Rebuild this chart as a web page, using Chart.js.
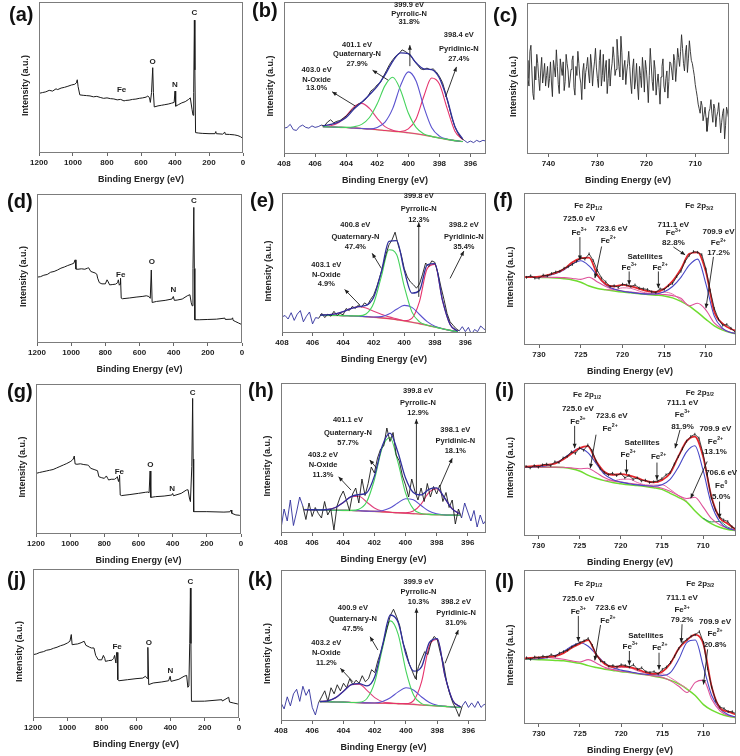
<!DOCTYPE html>
<html>
<head>
<meta charset="utf-8">
<script src="https://cdn.jsdelivr.net/npm/chart.js"></script>
<style>
html,body{margin:0;padding:0;background:#fff;}
body{width:740px;height:756px;position:relative;overflow:hidden;}
canvas{position:absolute;}
.letter{position:absolute;font-family:"Liberation Sans",Arial,sans-serif;font-weight:bold;font-size:20px;line-height:20px;color:#111;white-space:nowrap;}
</style>
</head>
<body>
<script>
const FONT = "'Liberation Sans', Arial, Helvetica, sans-serif";

// ---------------- Survey spectra (Binding energy eV, intensity a.u.) ----------------
const SURVEY_A = [[1200,39.5],[1180,40],[1160,40.5],[1140,41.5],[1120,41],[1100,42.5],[1090,42],[1070,43],[1050,43.5],[1030,44.2],[1010,45],[990,45.5],[980,46.5],[975,48.5],[970,44],[960,38.5],[940,38.2],[920,38],[900,37.8],[880,37.2],[860,37.5],[840,36.8],[820,36.2],[800,36.5],[780,36],[760,35.8],[740,35.2],[720,35.5],[700,34.5],[690,34.8],[670,35],[650,35.5],[630,35.7],[610,36.2],[590,36.5],[570,37],[560,37.8],[550,36.5],[545,33.5],[538,40],[531,56.5],[527,40],[522,30.5],[500,31.2],[480,31.6],[460,32],[440,32.4],[420,33],[405,33.5],[400,41],[396,31],[380,32],[360,33.2],[340,34],[320,35.5],[310,36.5],[300,29],[294,25],[290,40],[286,88],[283,55],[279,13.5],[260,13.2],[240,13],[200,12.8],[165,12.8],[160,14.2],[157,12.8],[120,12.5],[107,13.8],[104,12.4],[80,12.3],[50,12],[30,11.5],[15,10.8],[5,10],[0,9.5]];
const SURVEY_D = [[1200,44.2],[1180,44.5],[1160,45.5],[1140,46],[1120,47.5],[1100,48],[1080,49],[1060,50.2],[1040,51],[1020,52],[1000,52.8],[985,53.5],[977,55.8],[972,49.6],[960,49.5],[940,49.8],[920,49.5],[905,50.2],[898,50.5],[885,48],[860,47],[850,46.2],[845,43.5],[835,40.5],[820,39.7],[800,39.7],[790,42.4],[783,41],[775,39],[760,39.2],[740,39.5],[728,40.5],[724,42.4],[718,38.8],[714,39.5],[711,43.5],[707,30.1],[700,29.7],[660,30.2],[620,30.8],[580,31.3],[560,31.7],[545,31.2],[537,30],[531,49],[526,27.2],[500,27.9],[450,28.6],[410,29.5],[402,31.2],[396,28.6],[380,28.8],[350,29.5],[320,31.7],[305,32.4],[297,27],[292,25],[287,50],[282,91],[279,50],[276,15.6],[250,15.6],[200,15.8],[150,16],[100,16.7],[98,15.8],[60,16],[55,16.9],[52,15.2],[40,14.5],[20,13.4],[0,12.3]];
const SURVEY_G = [[1200,40.4],[1180,41],[1160,41.5],[1140,42],[1120,42.5],[1100,43],[1080,44],[1060,45],[1040,46],[1020,47],[1000,48.2],[990,49],[982,50],[976,52],[971,46.7],[960,46.5],[940,46.8],[920,46.3],[900,46],[893,45.8],[880,43.8],[860,43],[840,42.2],[832,38.2],[815,37.5],[800,37.1],[788,38.7],[780,37],[775,36],[760,36.5],[740,36.5],[728,37.5],[724,38.2],[717,35],[713,37],[711,39.3],[707,26],[700,25.6],[650,26.3],[600,27.1],[560,27.8],[545,28],[538,27.5],[532,42],[528,24.4],[500,24.9],[450,25.3],[405,26],[400,27],[395,25.5],[350,27.1],[320,29.3],[310,29.5],[302,24],[296,21.6],[288,45],[283,90.4],[280,50],[277,14.9],[200,14.9],[100,14.6],[65,14.8],[58,16],[54,13.8],[30,12.7],[10,12.5],[0,11.6]];
const SURVEY_J = [[1200,42.5],[1180,43],[1160,44],[1140,44.5],[1120,45.5],[1100,45.9],[1080,46.8],[1060,47.5],[1040,48.5],[1020,49.2],[1000,50.3],[985,51.5],[977,56],[972,49.2],[955,49.5],[940,49.7],[920,50.5],[902,51.5],[892,48.8],[870,47.5],[860,47],[845,47],[835,42],[820,39.1],[800,39],[790,42],[782,40],[778,38],[760,38.5],[740,38.8],[730,40],[725,42],[717,36.9],[713,44],[710,44],[706,25.7],[700,25],[650,25.7],[600,26.4],[560,26.8],[545,28],[535,26.5],[531,47.4],[526,22.4],[500,23.5],[450,24.2],[410,25],[401,28],[396,24.6],[350,26],[320,28],[305,28.6],[298,20.6],[292,21.5],[287,50],[283,87.2],[280,50],[277,11.2],[200,11.3],[100,12.3],[97,11.4],[60,13.9],[55,10.7],[30,10],[10,9.5],[0,8.9]];

// ---------------- Fe 2p of panel (c): raw counts on 0.2 eV grid 744.4 -> 703.2 ----------------
const RAW_C = [62,50,45,68,72,55,40,36,58,49,66,60,50,42,55,64,47,53,60,45,
 52,58,44,50,61,47,38,62,57,51,69,58,46,40,63,57,52,61,42,48,
 66,60,55,44,49,56,62,65,44,39,58,52,68,60,51,47,36,55,60,43,
 54,58,64,53,47,66,59,45,55,61,70,57,50,44,62,69,45,52,66,48,
 57,62,40,50,63,45,55,60,71,64,52,56,76,66,58,51,78,67,49,57,
 62,46,55,60,68,58,47,40,57,63,43,49,60,45,36,58,52,44,64,55,
 41,62,56,47,34,52,70,59,48,42,62,56,39,47,53,44,33,51,58,63,
 45,41,50,55,37,48,61,60,55,49,66,62,48,57,70,64,58,68,79,70,
 60,55,67,72,54,63,75,68,62,60,56,52,46,42,38,33,30,27,35,32,
 22,26,31,24,15,20,28,30,36,27,21,33,30,18,25,28,34,24,14,21,
 27,30,10,19,31,28,24];

// ---------------- N 1s fits (grid 406.5 -> 396.5 eV, step 0.5) ----------------
const N_GRID = [406.5,406,405.5,405,404.5,404,403.5,403,402.5,402,401.5,401,400.5,400,399.5,399,398.5,398,397.5,397,396.5];
// raw N 1s on 0.2 eV grid starting at 408
const RAW_B = [17,17.5,19.5,16,15.5,18,19,17.5,17,18.5, 17.5,18,19,18.5,21,22.5,20.5,21.5,22,23.5, 25,27,29.5,31,33,34,35.5,38,41.5,43, 45.5,47,51,55,59,62,64.5,66,68.5,67.5, 66,64,61,58.5,56,55.5,56.5,55.5,56,54, 51,47,40,32,24,18,13.5,10.5,9,7.5, 8.5,7.5,9,8,9,8.5];
const BG_B  = [null,null,18,17.8,17.6,17.4,17.1,16.8,16.4,16.0,15.5,15.0,14.5,14.0,13.3,12.5,11.5,10.5,9.6,8.8,8.2];
const NO_B  = [null,null,18.2,18.6,20.5,25,31,33.3,30,23.5,18,15.6,14.6,14.0,13.3,12.5,11.5,10.5,9.6,8.8,8.2];
const Q_B   = [null,null,18,17.8,17.6,17.5,17.9,19.5,24,33,45,50.5,42,27,17.5,13.2,11.6,10.5,9.6,8.8,8.2];
const PY_B  = [null,null,18,17.8,17.6,17.4,17.1,16.8,16.5,17.5,21,30,45,54,48,31,17.5,11.8,9.7,8.8,8.2];
const PD_B  = [null,null,18,17.8,17.6,17.4,17.1,16.8,16.4,16.0,15.5,15.0,14.8,16.5,23,38,50,46,30,15,9.5];
const ENV_B = [null,null,18.5,19.5,21,24,29.5,34,39,44.5,52,61,66.5,66,60,56,55.5,50,36,18,10];

const RAW_E = [11.5,12.5,10,14.5,9,13.5,16,8,12,15, 6.5,11,10.5,14,11,13.5,12,15.5,12.5,14, 13,17.5,16,19,17.5,20,18.5,21.5,20,24, 27,33,40,47.5,56,63,66.5,72,63,56, 46,40,36.5,34.5,32,35,42,50,47.5,51.5, 50.5,43,33,24,14,8,5.5,3,1.5,4.5, 1,4,-1,2.5,1,5,3,1.5];
const BG_E  = [null,null,12.7,12.6,12.5,12.4,12.2,12.0,11.7,11.3,10.8,10.3,9.5,8.6,7.7,6.7,5.5,4.3,3.0,1.9,0.8];
const NO_E  = [null,null,12.8,13,13.7,15.2,17.4,18.7,17.8,15.5,13.4,11.5,10.1,8.7,7.7,6.7,5.5,4.3,3.0,1.9,0.8];
const Q_E   = [null,null,12.7,12.6,12.5,12.4,12.2,12.2,13.55,21.2,40.2,59.5,56,33.3,15.1,8,5.6,4.3,3.0,1.9,0.8];
const PY_E  = [null,null,12.7,12.6,12.5,12.4,12.2,12.0,11.7,11.45,11.7,13.5,16.9,19.7,18.3,13.2,8.1,4.9,3.1,1.9,0.8];
const PD_E  = [null,null,12.7,12.6,12.5,12.4,12.2,12.0,11.7,11.3,10.8,10.3,9.5,8.8,10.5,22.6,46,49,23.4,6.1,1.2];
const ENV_E = [null,null,12.8,13.0,13.7,15.2,17.4,18.9,19.7,25.5,43.7,65.5,66,44.7,28.5,30.4,48.7,49.6,23.5,6.1,1.2];

const RAW_H = [3,16,8,22,5,14,24,18,9,20, 11,17,13,10,21,12,16,2,18,24, 28,22,15,26,30,20,36,25,33,44, 40,50,56,58,70,61,67,52,48,38, 32,24,36,28,22,30,21,33,24,31, 26,32,21,27,17,22,6,16,10,20, 14,8,15,4,12,6,9];
const BG_H  = [15.6,15.5,15.4,15.3,15.2,15.1,15.0,14.8,14.6,14.4,14.1,13.8,13.5,13.2,12.9,12.6,12.4,12.2,12.0,11.9,11.8];
const NO_H  = [15.6,15.5,15.45,15.7,17,20.35,24.2,24.5,20.7,16.7,14.65,13.87,13.5,13.2,12.9,12.6,12.4,12.2,12.0,11.9,11.8];
const Q_H   = [15.6,15.5,15.4,15.3,15.2,15.1,15.1,15.86,20.66,35.5,56.6,63.7,47.7,26.8,16.1,13.03,12.4,12.2,12.0,11.9,11.8];
const PY_H  = [15.6,15.5,15.4,15.3,15.2,15.1,15.0,14.8,14.6,14.53,14.86,16.6,20,22.85,22.1,18.3,14.6,12.76,12.09,11.9,11.8];
const PD_H  = [15.6,15.5,15.4,15.3,15.2,15.1,15.0,14.8,14.6,14.4,14.1,13.8,13.5,13.45,14.6,19.3,26.9,29.5,23.4,16.1,12.64];
const ENV_H = [15.6,15.5,15.45,15.67,17,20.35,24.3,25.56,26.76,37.9,57.9,66.6,54.2,36.7,27,25.4,29.1,30.06,23.5,16.1,12.64];

const RAW_K = [12,8,16,10,18,21,13,23,17,21, 9,4,12,16,20,13,22,18,24,20, 25,22,28,24,27,25,30,26,28,34, 32,40,46,54,62,70,74,69,63,52, 46,38,33,28,36,41,46,44,52,56, 54,45,38,26,18,12,8,3,10,13, 9,12,9,13,9,11,10];
const BG_K  = [null,null,12.8,12.7,12.6,12.5,12.3,12.1,12.0,11.9,11.8,11.7,11.5,11.3,11.0,10.6,10.3,10.0,9.7,9.3,8.9];
const NO_K  = [null,null,12.9,13.4,15.45,19.75,24.1,24.45,20.3,15.46,12.77,11.87,11.5,11.3,11.0,10.6,10.3,10.0,9.7,9.3,8.9];
const Q_K   = [null,null,12.8,12.7,12.6,12.5,12.3,12.43,14.9,25.7,48.3,66.3,57.4,33.1,16.85,11.5,10.38,10.0,9.7,9.3,8.9];
const PY_K  = [null,null,12.8,12.7,12.6,12.5,12.3,12.1,12.0,11.92,12.9,15.4,19.3,22,20.4,15.9,12.2,10.4,9.76,9.3,8.9];
const PD_K  = [null,null,12.8,12.7,12.6,12.5,12.3,12.1,12.0,11.9,11.8,11.7,11.5,11.5,13.7,26.1,50,54,29.6,13.4,9.28];
const ENV_K = [null,null,12.9,13.4,15.45,19.75,24.1,24.8,23.2,29.3,50.4,70.2,65.2,44,33,36,52,54.5,29.66,13.4,9.28];

// ---------------- Fe 2p fits (grid 732 -> 706 eV, step 1) ----------------
const FE_GRID = [732,731,730,729,728,727,726,725,724,723,722,721,720,719,718,717,716,715,714,713,712,711,710,709,708,707,706];
// raw Fe 2p on 0.5 eV grid 731.5 -> 706
const RAW_F = [44.5,45.5,44,44,46,45.5,47,48,48.5,50.5, 51.5,53,55,57.5,56.5,60,55.5,49,44,41.5, 38.5,39,38,40,39.5,38.5,39.5,37.5,37,36.5, 35,34.5,37,36.5,39,40.5,45,48.5,55,59, 61.5,61,59.5,50,36,24,17,13,13.5,11, 8.5,8];
const BG_F  = [44.8,44.6,44.5,44.4,44.1,43.6,42.8,41.3,38.8,37.2,36.3,35.5,34.8,34.3,33.7,33.3,32.8,32.2,31,28.7,25.6,21.5,16.9,12.6,9.8,8.0,7.2];
const FE3_F = [44.8,44.7,44.9,45.5,47,49.5,53.4,55.4,52,45.5,39.6,36.8,35.4,34.6,33.9,33.5,33.6,35,38.5,44.5,52.5,56.5,40,19,11,8.2,7.3];
const FE2_F = [44.8,44.6,44.6,44.6,44.5,44.3,43.8,43.2,44.6,41.5,38.5,36.5,35.5,34.8,34.2,33.8,33.5,33.2,32.5,30.8,25.8,27.5,23,14.5,10.5,8.2,7.3];
const SAT_F = [null,null,null,null,null,null,null,null,null,null,36.4,36.3,37.6,37.3,35.5,34.2,34.2,34.8,33.5,29.5,25.8,null,null,null,null,null,null];
const ENV_F = [44.6,44.6,45,46,47.5,50,54.5,57,57.5,46,40,38.5,39.5,38.5,37,35.5,35,37,42,50,60,61,48,22,14,10.5,9];

const RAW_I = [45.5,44.5,46,45,46.5,47,46,48.5,48,51, 52,55,54,57.5,56,59.5,56,49,44,41.5, 40,41,39.5,41,38,39.5,37,38,36,36.5, 35,35.5,36,37.5,40,41.5,47,52,57,62, 65,66.5,64,54,40,25,17,12.5,10.5,9.5, 6,4.5];
const BG_I  = [45,45,45,45,45,44.7,44,42.5,39.8,37.8,36.2,35,34.2,33.5,33,32.4,31.6,30.5,27.9,25.3,22.3,16.5,11.5,8.1,5.7,4.2,3.5];
const FE3_I = [45,45.1,45.4,46,47.5,50.5,54.5,57.4,54.5,47.5,40.5,37,35.2,34.2,33.4,32.8,32.5,33.5,37,45,55,59,43,21,9.5,5,3.8];
const FE2_I = [45,45,45,45,45,44.9,44.5,44,44.3,41.5,38.2,36.2,35.2,34.5,33.8,33,32.2,31.2,29.2,26.5,24.5,25.3,19,11.5,7.5,5,3.8];
const SAT_I = [null,null,null,null,null,null,null,null,null,null,36.5,36,37,37.2,35,33.4,33.2,33.5,30.5,26.5,23,null,null,null,null,null,null];
const FE0_I = [null,null,null,null,null,null,null,null,null,null,null,null,null,null,null,null,null,null,null,null,null,null,11.6,9.2,9.5,5.8,3.6];
const ENV_I = [45,45.5,46,46.5,47.3,50,53.8,57.4,58.8,49,42,40,40.4,39.6,38,36,35,36.5,41,52,62,65,52,26,12,8,4];

const RAW_L = [43,42,43.5,43,44,43.5,45,44,46,47, 48,50,51.5,53,54,55.5,51,45,41,40, 37.5,38,37,38.5,38,37,38.5,35.5,36.5,34, 33.5,34,32.5,35.5,37,40,44,49,53,55, 57,58,60,53,36,24,15,11,10,8, 8,6.5];
const BG_L  = [42.2,42,41.8,41.6,41.3,41,40.3,39.4,37.9,36.7,35.6,34.8,34,33.4,32.6,31.9,31,30,28.3,26,22.7,18.5,12.6,9,6.6,5,4.2];
const FE3_L = [42.2,42.2,42.4,43,44.5,47,50.5,52.8,50.5,45,39.5,36.5,35,34,33,32.3,32,31.5,33.5,42,53,54.5,37,18.5,10,6,4.5];
const FE2_L = [42.4,42.8,43.2,43.2,42.8,42,41,40.3,41.8,39.5,36.8,35.3,34.3,33.6,32.8,32,31.2,30.3,28,24.5,20.5,27,28.5,16,8.5,5.5,4.4];
const SAT_L = [null,null,null,null,null,null,null,null,null,null,36,35.5,36.8,36.5,34.5,33,32.2,32.5,30,26.5,23,null,null,null,null,null,null];
const ENV_L = [42.5,43,43.2,43.6,44.1,46,49.5,52.2,54.5,44.8,39,37,37.5,37,35.5,33.5,32.5,34,39.5,49,54.5,58,51.7,24,10.4,8,6];

// ---------------- Annotation texts ----------------
const LBL_A = [{t:'C',x:286,y:93},{t:'O',x:531,y:60.3},{t:'N',x:400,y:45},{t:'Fe',x:714,y:41.7}];
const LBL_D = [{t:'C',x:282,y:95.5},{t:'O',x:528,y:54.5},{t:'Fe',x:710,y:45.8},{t:'N',x:401,y:35.7}];
const LBL_G = [{t:'C',x:283,y:94.2},{t:'O',x:531,y:46},{t:'Fe',x:712,y:41.6},{t:'N',x:403,y:30.4}];
const LBL_J = [{t:'C',x:283,y:91.3},{t:'O',x:525,y:50.3},{t:'Fe',x:710,y:48},{t:'N',x:399,y:31.8}];

const TX_B = [
 {x:405.9, ys:[55.1,49,43.5], lines:['403.0 eV','N-Oxide','13.0%']},
 {x:403.3, ys:[71.6,65.6,59.5], lines:['401.1 eV','Quaternary-N','27.9%']},
 {x:399.95, ys:[97.8,92.3,87.0], lines:['399.9 eV','Pyrrolic-N','31.8%']},
 {x:396.75, ys:[78.1,69.4,62.5], lines:['398.4 eV','Pyridinic-N','27.4%']}];
const AR_B = [[403.4,31.5,404.9,40.9],[401.3,48.6,402.3,55.1],[399.9,57.8,399.9,71.6],[397.6,37.6,396.9,57.3]];
const TX_E = [
 {x:405.1, ys:[48.6,41.4,34.9], lines:['403.1 eV','N-Oxide','4.9%']},
 {x:403.2, ys:[77.3,68.9,61.7], lines:['400.8 eV','Quaternary-N','47.4%']},
 {x:399.05, ys:[97.6,88.5,80.9], lines:['399.8 eV','Pyrrolic-N','12.3%']},
 {x:396.1, ys:[77.3,68.9,61.2], lines:['398.2 eV','Pyridinic-N','35.4%']}];
const AR_E = [[402.9,19.9,403.9,31.1],[401.5,46.2,402.1,56.9],[399.05,25.8,399.05,79],[397.0,39,396.1,58.5]];
const TX_H = [
 {x:405.3, ys:[52,45.3,38.6], lines:['403.2 eV','N-Oxide','11.3%']},
 {x:403.7, ys:[75.4,67,59.8], lines:['401.1 eV','Quaternary-N','57.7%']},
 {x:399.2, ys:[94.4,87,79.9], lines:['399.8 eV','Pyrrolic-N','12.9%']},
 {x:396.8, ys:[68.8,61.4,54.7], lines:['398.1 eV','Pyridinic-N','18.1%']}];
const AR_H = [[403.5,28.6,404.3,37.5],[401.9,43.8,402.3,48.7],[399.3,26.3,399.3,75.9],[397.8,30.8,397.0,49.8]];
const TX_K = [
 {x:405.1, ys:[51.4,44.8,38.2], lines:['403.2 eV','N-Oxide','11.2%']},
 {x:403.4, ys:[74.6,67.3,60.7], lines:['400.9 eV','Quaternary-N','47.5%']},
 {x:399.2, ys:[92.3,85.7,79], lines:['399.9 eV','Pyrrolic-N','10.3%']},
 {x:396.8, ys:[79,71.7,64.7], lines:['398.2 eV','Pyridinic-N','31.0%']}];
const AR_K = [[403.4,26,404.2,34.9],[401.8,47,402.3,55.8],[399.33,27.2,399.33,74.6],[397.5,38.2,396.65,60.3]];

const TX_F = [
 {x:724.1, ys:[91.6], lines:['Fe 2p_{1/2}']},
 {x:725.2, ys:[82.9,74.1], lines:['725.0 eV','Fe^{3+}']},
 {x:721.3, ys:[76.3], lines:['723.6 eV']},
 {x:721.7, ys:[68.8], lines:['Fe^{2+}']},
 {x:717.3, ys:[58.2], lines:['Satellites']},
 {x:719.2, ys:[51], lines:['Fe^{3+}']},
 {x:715.5, ys:[51], lines:['Fe^{2+}']},
 {x:710.8, ys:[91.6], lines:['Fe 2p_{3/2}']},
 {x:713.9, ys:[79.1,73.6,67.5], lines:['711.1 eV','Fe^{3+}','82.8%']},
 {x:708.5, ys:[74.7,67,60.4], lines:['709.9 eV','Fe^{2+}','17.2%']}];
const AR_F = [[725.1,71,725.1,56],[722.5,64.8,723.3,44],[719.2,48.4,719.2,39.6],[715.7,48.4,715.7,37.4],[713.9,64.5,712.5,59.3],[709.1,58,710,24.2]];
const TX_I = [
 {x:724.1, ys:[92.4], lines:['Fe 2p_{1/2}']},
 {x:725.2, ys:[83,74.9], lines:['725.0 eV','Fe^{3+}']},
 {x:721.1, ys:[78.6], lines:['723.6 eV']},
 {x:721.3, ys:[69.9], lines:['Fe^{2+}']},
 {x:717.4, ys:[60.7], lines:['Satellites']},
 {x:719.1, ys:[53.1], lines:['Fe^{3+}']},
 {x:715.4, ys:[51.5], lines:['Fe^{2+}']},
 {x:710.4, ys:[93.9], lines:['Fe 2p_{3/2}']},
 {x:712.5, ys:[87.3,79.3,71.6], lines:['711.1 eV','Fe^{3+}','81.9%']},
 {x:708.5, ys:[69.9,61.8,55.2], lines:['709.9 eV','Fe^{2+}','13.1%']},
 {x:707.8, ys:[41,32.8,25.8], lines:['706.6 eV','Fe^{0}','5.0%']}];
const AR_I = [[725.6,72,725.6,57.4],[723.0,66.2,723.7,44.3],[719.3,49.8,719.3,40.6],[715.6,48,715.6,36.7],[712.8,69.4,713.4,57.4],[709.5,48.7,711.5,24.7],[708.0,22.5,708.0,11.6]];
const TX_L = [
 {x:724.0, ys:[91.3], lines:['Fe 2p_{1/2}']},
 {x:725.2, ys:[81.1,73], lines:['725.0 eV','Fe^{3+}']},
 {x:721.2, ys:[75.2], lines:['723.6 eV']},
 {x:721.6, ys:[67], lines:['Fe^{2+}']},
 {x:717.0, ys:[57.2], lines:['Satellites']},
 {x:718.9, ys:[50], lines:['Fe^{3+}']},
 {x:715.3, ys:[49.6], lines:['Fe^{2+}']},
 {x:710.4, ys:[91.3], lines:['Fe 2p_{3/2}']},
 {x:712.6, ys:[81.7,73.9,67.4], lines:['711.1 eV','Fe^{3+}','79.2%']},
 {x:708.6, ys:[66.5,58.7,51.3], lines:['709.9 eV','Fe^{2+}','20.8%']}];
const AR_L = [[725.2,70.2,725.2,53.5],[722.5,64.3,723.2,41.3],[719,47.4,719,38.3],[715.4,46.3,715.4,35.4],[712.6,64.8,712.7,52.8],[709.5,48.5,710,25.7]];

// ---------------- helpers ----------------
function grid(start, stop, step){ const n=Math.round((start-stop)/step), out=[]; for(let i=0;i<=n;i++) out.push(+(start-i*step).toFixed(3)); return out; }
function zip(xs, ys){ return ys.map((y,i)=>({x:xs[i], y:y})); }
function pairs(a){ return a.map(p=>({x:p[0], y:p[1]})); }
const COL = {ink:'#1a1a1a', navy:'#2f2f9c', noxide:'#e0407c', quat:'#45d35c', pyrrolic:'#5a52cf', pyridinic:'#e6336c', nbg:'#d3cf8c',
             red:'#e2262c', fe3:'#4747c6', fe2:'#de529a', sat:'#e46aa6', febg:'#6fdc30', fe0:'#2e9a5a'};
const SMOOTH = {cubicInterpolationMode:'monotone'};
function ds(data, color, width, order, extra){
  return Object.assign({data:data, borderColor:color, borderWidth:width, pointRadius:0, fill:false, order:order, tension:0, spanGaps:false}, extra||{});
}
function richParts(s){
  const parts=[], re=/([\^_])\{([^}]*)\}/g; let last=0, m;
  while((m=re.exec(s))){ if(m.index>last) parts.push({t:s.slice(last,m.index),k:''}); parts.push({t:m[2],k:m[1]}); last=re.lastIndex; }
  if(last<s.length) parts.push({t:s.slice(last),k:''});
  return parts;
}
function drawRich(ctx, s, cx, cy, size){
  const parts=richParts(s), small=size*0.65; let w=0;
  parts.forEach(p=>{ ctx.font='bold '+(p.k?small:size)+'px '+FONT; p.w=ctx.measureText(p.t).width; w+=p.w; });
  let x=cx-w/2; ctx.textAlign='left'; ctx.textBaseline='middle';
  parts.forEach(p=>{ ctx.font='bold '+(p.k?small:size)+'px '+FONT; const dy=p.k==='^'?-size*0.38:(p.k==='_'?size*0.32:0); ctx.fillText(p.t,x,cy+dy); x+=p.w; });
}
function arrow(ctx,x1,y1,x2,y2){
  ctx.beginPath(); ctx.moveTo(x1,y1); ctx.lineTo(x2,y2); ctx.stroke();
  const a=Math.atan2(y2-y1,x2-x1), L=4.5, W=2;
  ctx.beginPath(); ctx.moveTo(x2,y2);
  ctx.lineTo(x2-L*Math.cos(a)+W*Math.sin(a), y2-L*Math.sin(a)-W*Math.cos(a));
  ctx.lineTo(x2-L*Math.cos(a)-W*Math.sin(a), y2-L*Math.sin(a)+W*Math.cos(a));
  ctx.closePath(); ctx.fill();
}

// ---------------- panels ----------------
const PANELS = [
 {key:'(a)', rect:[39,2,243,153], letter:[9,4], kind:'survey', survey:SURVEY_A, labels:LBL_A},
 {key:'(b)', rect:[284,2,486,154], letter:[252,0], kind:'n', xr:[395.0,408], raw:RAW_B, c:{bg:BG_B,no:NO_B,q:Q_B,py:PY_B,pd:PD_B,env:ENV_B}, fit:[396.5,405.5], texts:TX_B, arrows:AR_B},
 {key:'(c)', rect:[527,3,729,154], letter:[493,5], kind:'c', raw:RAW_C},
 {key:'(d)', rect:[37,194,242,343], letter:[7,191], kind:'survey', survey:SURVEY_D, labels:LBL_D},
 {key:'(e)', rect:[282,193,486,333], letter:[250,190], kind:'n', xr:[394.65,408], raw:RAW_E, c:{bg:BG_E,no:NO_E,q:Q_E,py:PY_E,pd:PD_E,env:ENV_E}, fit:[396.5,405.5], texts:TX_E, arrows:AR_E},
 {key:'(f)', rect:[524,193,736,345], letter:[493,190], kind:'fe', xr:[706.4,731.8], raw:RAW_F, c:{bg:BG_F,fe3:FE3_F,fe2:FE2_F,sat:SAT_F,env:ENV_F}, texts:TX_F, arrows:AR_F},
 {key:'(g)', rect:[36,384,241,534], letter:[7,381], kind:'survey', survey:SURVEY_G, labels:LBL_G},
 {key:'(h)', rect:[281,383,486,533], letter:[248,380], kind:'n', xr:[394.83,408], raw:RAW_H, c:{bg:BG_H,no:NO_H,q:Q_H,py:PY_H,pd:PD_H,env:ENV_H}, fit:[396.5,406.5], texts:TX_H, arrows:AR_H},
 {key:'(i)', rect:[524,383,736,536], letter:[495,380], kind:'fe', xr:[706.0,731.75], raw:RAW_I, c:{bg:BG_I,fe3:FE3_I,fe2:FE2_I,sat:SAT_I,fe0:FE0_I,env:ENV_I}, texts:TX_I, arrows:AR_I},
 {key:'(j)', rect:[33,569,239,718], letter:[7,569], kind:'survey', survey:SURVEY_J, labels:LBL_J},
 {key:'(k)', rect:[281,570,486,721], letter:[248,569], kind:'n', xr:[394.88,408], raw:RAW_K, c:{bg:BG_K,no:NO_K,q:Q_K,py:PY_K,pd:PD_K,env:ENV_K}, fit:[396.5,405.5], texts:TX_K, arrows:AR_K},
 {key:'(l)', rect:[524,570,736,724], letter:[495,571], kind:'fe', xr:[706.05,731.8], raw:RAW_L, c:{bg:BG_L,fe3:FE3_L,fe2:FE2_L,sat:SAT_L,env:ENV_L}, texts:TX_L, arrows:AR_L}
];

function datasetsFor(p){
  if(p.kind==='survey') return [ds(pairs(p.survey), COL.ink, 1, 0)];
  if(p.kind==='c') return [ds(zip(grid(744.4,703.2,0.2), p.raw), '#2a2a2a', 0.9, 0)];
  if(p.kind==='n'){
    const g=N_GRID, c=p.c, f=p.fit;
    const outside = s => { const a=s.p0.parsed.x, b=s.p1.parsed.x; return (Math.min(a,b)>=f[1]-1e-6) || (Math.max(a,b)<=f[0]+1e-6); };
    return [
      ds(zip(g,c.env), COL.navy, 1.3, 0, SMOOTH),
      ds(zip(grid(408,394.6,0.2), p.raw), COL.ink, 0.9, 1, {segment:{borderColor: s => outside(s) ? COL.navy : COL.ink}}),
      ds(zip(g,c.q), COL.quat, 1.1, 2, SMOOTH),
      ds(zip(g,c.py), COL.pyrrolic, 1.1, 2, SMOOTH),
      ds(zip(g,c.pd), COL.pyridinic, 1.1, 2, SMOOTH),
      ds(zip(g,c.no), COL.noxide, 1.1, 2, SMOOTH),
      ds(zip(g,c.bg), COL.nbg, 1.6, 3, SMOOTH)
    ];
  }
  const g=FE_GRID, c=p.c;
  const out = [
    ds(zip(grid(731.5,706,0.5), p.raw), COL.ink, 0.8, 0, {pointRadius:1.4, pointStyle:'line', rotation:90, pointBorderColor:COL.ink, pointBorderWidth:0.8}),
    ds(zip(g,c.env), COL.red, 1.8, 1, SMOOTH),
    ds(zip(g,c.fe3), COL.fe3, 1.1, 2, SMOOTH),
    ds(zip(g,c.fe2), COL.fe2, 1.1, 2, SMOOTH),
    ds(zip(g,c.sat), COL.sat, 1.0, 2, SMOOTH)
  ];
  if(c.fe0) out.push(ds(zip(g,c.fe0), COL.fe0, 1.0, 2, SMOOTH));
  out.push(ds(zip(g,c.bg), COL.febg, 1.5, 3, SMOOTH));
  return out;
}

function decor(p){
  return { id:'decor', afterDraw(chart){
    const ctx=chart.ctx, a=chart.chartArea, xs=chart.scales.x, ys=chart.scales.y;
    ctx.save();
    ctx.strokeStyle='#7c7c7c'; ctx.lineWidth=1;
    ctx.strokeRect(Math.round(a.left)+0.5, Math.round(a.top)+0.5, Math.round(a.right-a.left)-1, Math.round(a.bottom-a.top)-1);
    ctx.save(); ctx.translate(a.left-13, (a.top+a.bottom)/2+8); ctx.rotate(-Math.PI/2);
    ctx.fillStyle='#222'; ctx.font='bold 9px '+FONT; ctx.textAlign='center'; ctx.textBaseline='middle';
    ctx.fillText('Intensity (a.u.)',0,0); ctx.restore();
    ctx.fillStyle='#1e1e1e'; ctx.strokeStyle='#1e1e1e'; ctx.lineWidth=0.9;
    (p.labels||[]).forEach(l=>{ drawRich(ctx, l.t, xs.getPixelForValue(l.x), ys.getPixelForValue(l.y), 8); });
    const size = p.kind==='n' ? 7.5 : 8;
    (p.texts||[]).forEach(t=>{ const px=xs.getPixelForValue(t.x); t.lines.forEach((s,i)=>drawRich(ctx, s, px, ys.getPixelForValue(t.ys[i]), size)); });
    (p.arrows||[]).forEach(r=>arrow(ctx, xs.getPixelForValue(r[0]), ys.getPixelForValue(r[1]), xs.getPixelForValue(r[2]), ys.getPixelForValue(r[3])));
    ctx.restore();
  }};
}

function makePanel(p){
  const PADL=20, PADT=6, PADR=6, PADB=32;
  const [l,t,r,b] = p.rect;
  const W = r-l+PADL+PADR, H = b-t+PADT+PADB;
  const cv=document.createElement('canvas');
  cv.width=W; cv.height=H; cv.style.left=(l-PADL)+'px'; cv.style.top=(t-PADT)+'px'; cv.style.width=W+'px'; cv.style.height=H+'px';
  document.body.appendChild(cv);
  let xmin, xmax, step;
  if(p.kind==='survey'){ xmin=0; xmax=1200; step=200; }
  else if(p.kind==='n'){ xmin=p.xr[0]; xmax=p.xr[1]; step=2; }
  else if(p.kind==='c'){ xmin=703.1; xmax=744.4; step=10; }
  else { xmin=p.xr[0]; xmax=p.xr[1]; step=5; }
  new Chart(cv, {type:'line', data:{datasets:datasetsFor(p)}, options:{
    responsive:false, animation:false, devicePixelRatio:1, events:[],
    layout:{padding:{left:PADL, top:PADT, right:PADR, bottom:0}},
    plugins:{legend:{display:false}, tooltip:{enabled:false}},
    scales:{
      x:{type:'linear', reverse:true, min:xmin, max:xmax,
         afterFit(s){ s.height=PADB; s.paddingLeft=0; s.paddingRight=0; },
         ticks:{stepSize:step, autoSkip:false, maxRotation:0, minRotation:0, includeBounds:false, padding:2, color:'#222', font:{size:8, weight:'bold', family:FONT}, callback:v=>String(v)},
         grid:{display:true, drawOnChartArea:false, drawTicks:true, tickLength:3, color:'#666'},
         border:{display:false},
         title:{display:true, text:'Binding Energy (eV)', color:'#222', font:{size:9, weight:'bold', family:FONT}, padding:0}},
      y:{display:false, min:0, max:100}
    }
  }, plugins:[decor(p)]});
  const d=document.createElement('div'); d.className='letter'; d.textContent=p.key;
  d.style.left=p.letter[0]+'px'; d.style.top=p.letter[1]+'px'; document.body.appendChild(d);
}
PANELS.forEach(makePanel);
</script>
</body>
</html>
